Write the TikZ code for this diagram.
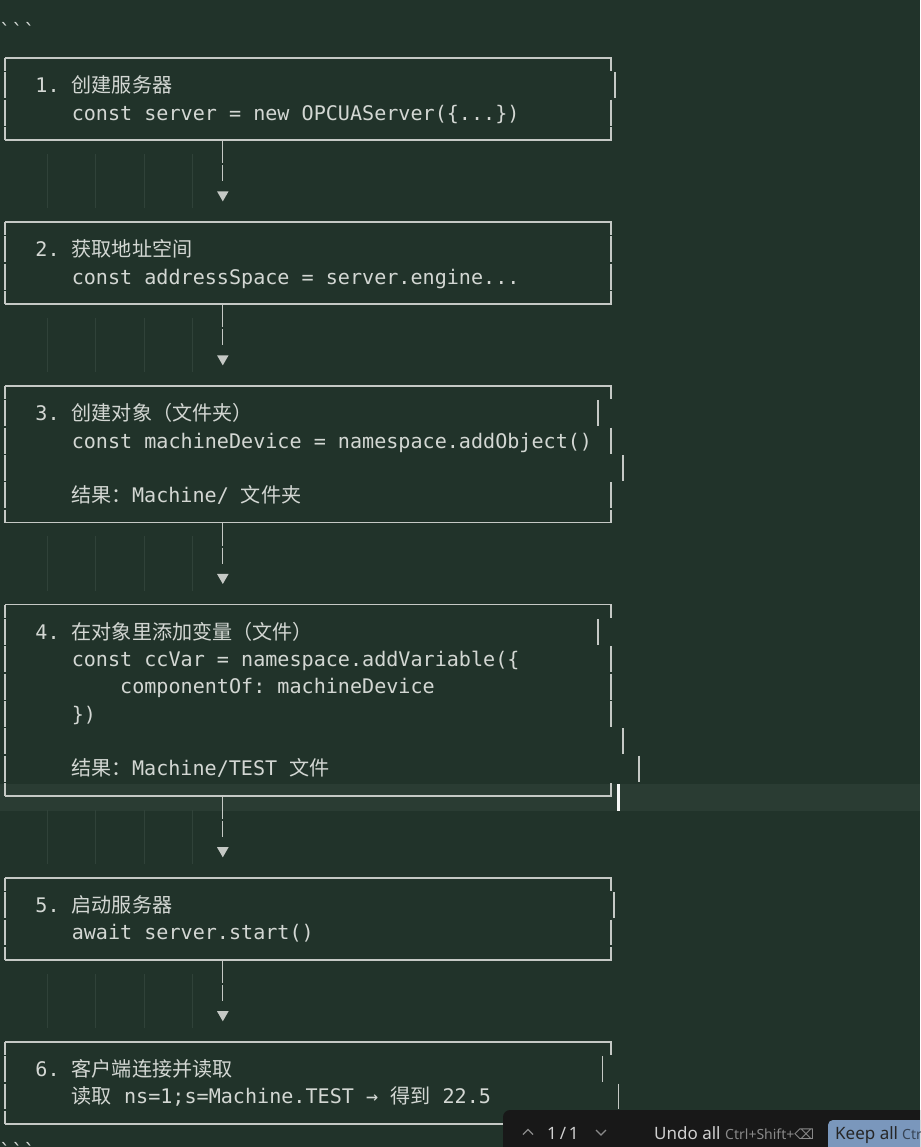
\documentclass[tikz,border=0pt]{standalone}
\usepackage{fontspec}
\setmonofont{DejaVu Sans Mono}
\newfontfamily\cjkfont{Noto Sans CJK SC}
\newfontfamily\uifont{Noto Sans}
\newfontfamily\symfont{DejaVu Sans}
\usetikzlibrary{calc, shapes.geometric}

\definecolor{editorbg}{HTML}{21332A}
\definecolor{linehl}{HTML}{2A3C33}
\definecolor{codefg}{HTML}{D3D7D3}
\definecolor{rulefg}{HTML}{C5C9C5}
\definecolor{guidefg}{HTML}{304239}
\definecolor{popupbg}{HTML}{181818}
\definecolor{uifg}{HTML}{D0D0D0}
\definecolor{uidim}{HTML}{8A8A8A}
\definecolor{keepbg}{HTML}{7A97BC}

\newcommand\zh[1]{{\cjkfont #1}}

\begin{document}
\begin{tikzpicture}[
  x=1pt, y=-1pt,
  declare function={ry(\k)=30.67+27.33*\k; cx(\k)=-1.05+12.1*\k;},
  codeline/.style={anchor=base west, inner sep=0pt, text=codefg, font=\ttfamily\fontsize{20.1}{27}\selectfont},
  flowbox/.style={rectangle, minimum width=606pt, inner sep=0pt, outer sep=0pt},
  rule/.style={draw=rulefg, line width=1.3pt},
  sidebar/.style={rule, dash pattern=on 25.83pt off 1.5pt, dash phase=12.91pt},
  link/.style={rule, dash pattern=on 23pt off 2pt},
  tip/.style={regular polygon, regular polygon sides=3, shape border rotate=180, fill=rulefg, minimum size=13.4pt, inner sep=0pt, outer sep=0pt},
  guide/.style={draw=guidefg, line width=0.9pt},
  uitext/.style={anchor=base west, inner sep=0pt, text=uifg, font=\uifont\fontsize{17}{20}\selectfont},
  uikey/.style={anchor=base west, inner sep=0pt, text=uidim, font=\uifont\fontsize{14}{16}\selectfont}
]
\useasboundingbox (0,0) rectangle (920,1147);
\clip (0,0) rectangle (920,1147);

% Editor
\fill[editorbg] (0,0) rectangle (920,1147);
\fill[linehl] (0,783.5) rectangle (920,810.5);
\foreach \rw in {5,11,19,29,35}
  \foreach \xp in {47.7,95.7,144.3,192.7}
    \draw[guide] (\xp,{ry(\rw)-13.67}) -- ++(0,54.66);

% Boxes
\node[flowbox, minimum height=82pt] (box1) at (308,{ry(2.5)}) {};
\node[flowbox, minimum height=82pt] (box2) at (308,{ry(8.5)}) {};
\node[flowbox, minimum height=136.65pt] (box3) at (308,{ry(15.5)}) {};
\node[flowbox, minimum height=191.31pt] (box4) at (308,{ry(24.5)}) {};
\node[flowbox, minimum height=82pt] (box5) at (308,{ry(32.5)}) {};
\node[flowbox, minimum height=82pt] (box6) at (308,{ry(38.5)}) {};

\foreach \i in {1,...,6} {
  \draw[sidebar] (box\i.north west) -- (box\i.south west);
  \draw[rule] ($(box\i.north east)+(0,12.92)$) -- (box\i.north east) -- (box\i.north west);
  \draw[rule] (box\i.south west) -- (box\i.south east) -- ++(0,-12.92);
}
\foreach \xp/\rw in {615/2, 611/3, 611/8, 611/9, 598/14, 611/15, 623/16, 611/17,
    598/22, 611/23, 611/24, 611/25, 623/26, 639/27, 614/32, 611/33, 602.5/38, 618.5/39}
  \draw[rule] (\xp,{ry(\rw)-12.92}) -- ++(0,25.84);

% Arrows
\foreach \i/\rw in {1/6, 2/12, 3/20, 4/30, 5/36} {
  \node[tip] (tip\i) at (222.8,{ry(\rw)}) {};
  \draw[link] (box\i.south -| tip\i) -- ($(tip\i)+(0,-13.67)$);
}

% Text
\node[codeline] (fence1) at ({cx(0)},{ry(0)+7.4}) {\textasciigrave\textasciigrave\textasciigrave};
\node[codeline] (t1) at ({cx(3)},{ry(2)+7.4}) {1. \zh{创建服务器}};
\node[codeline] (c1) at ({cx(6)},{ry(3)+7.4}) {const server = new OPCUAServer(\{...\})};
\node[codeline] (t2) at ({cx(3)},{ry(8)+7.4}) {2. \zh{获取地址空间}};
\node[codeline] (c2) at ({cx(6)},{ry(9)+7.4}) {const addressSpace = server.engine...};
\node[codeline] (t3) at ({cx(3)},{ry(14)+7.4}) {3. \zh{创建对象（文件夹）}};
\node[codeline] (c3) at ({cx(6)},{ry(15)+7.4}) {const machineDevice = namespace.addObject()};
\node[codeline] (r3) at ({cx(6)},{ry(17)+7.4}) {\zh{结果：}Machine/ \zh{文件夹}};
\node[codeline] (t4) at ({cx(3)},{ry(22)+7.4}) {4. \zh{在对象里添加变量（文件）}};
\node[codeline] (c4) at ({cx(6)},{ry(23)+7.4}) {const ccVar = namespace.addVariable(\{};
\node[codeline] (c4b) at ({cx(10)},{ry(24)+7.4}) {componentOf: machineDevice};
\node[codeline] (c4c) at ({cx(6)},{ry(25)+7.4}) {\})};
\node[codeline] (r4) at ({cx(6)},{ry(27)+7.4}) {\zh{结果：}Machine/TEST \zh{文件}};
\node[codeline] (t5) at ({cx(3)},{ry(32)+7.4}) {5. \zh{启动服务器}};
\node[codeline] (c5) at ({cx(6)},{ry(33)+7.4}) {await server.start()};
\node[codeline] (t6) at ({cx(3)},{ry(38)+7.4}) {6. \zh{客户端连接并读取}};
\node[codeline] (c6) at ({cx(6)},{ry(39)+7.4}) {\zh{读取} ns=1;s=Machine.TEST → \zh{得到} 22.5};
\node[codeline] (fence2) at ({cx(0)},{ry(41)+7.4}) {\textasciigrave\textasciigrave\textasciigrave};

% Cursor
\fill[white!85!rulefg] (617,783.5) rectangle (619.5,810.5);

% Review bar
\fill[popupbg, rounded corners=7pt] (503,1110) rectangle (940,1170);
\draw[uidim, line width=1.2pt] (523,1134.5) -- (528,1129.5) -- (533,1134.5);
\node[uitext] (count) at (547,1139) {1\,/\,1};
\draw[uidim, line width=1.2pt] (596,1130) -- (601,1135) -- (606,1130);
\node[uitext] (undo) at (654,1139) {Undo all};
\node[uikey] (undokey) at (725,1139) {Ctrl+Shift+{\symfont ⌫}};
\fill[keepbg, rounded corners=5pt] (828,1120) rectangle (940,1170);
\node[uitext, text=black!85] (keep) at (835,1139) {Keep all};
\node[uikey, text=keepbg!45!black] (keepkey) at (902,1139) {Ctr};
\end{tikzpicture}
\end{document}
